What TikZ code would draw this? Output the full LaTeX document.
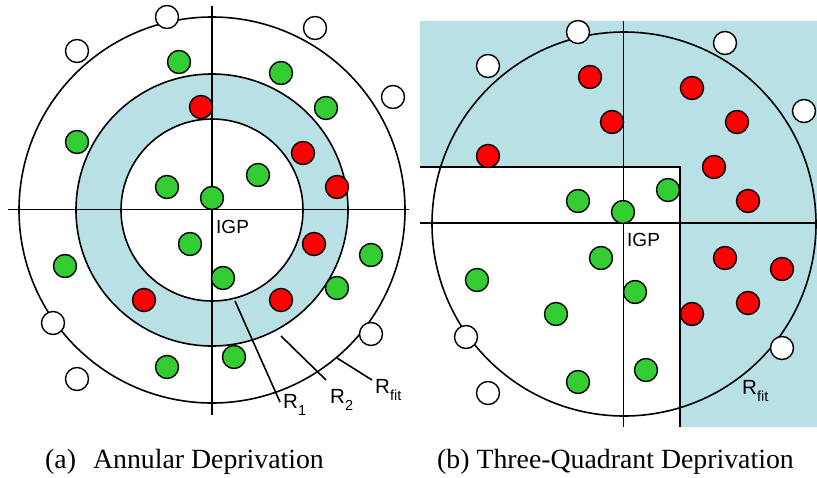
\documentclass[tikz,border=0pt]{standalone}
\usepackage{fontspec}
\setmainfont{Liberation Serif}
\newfontfamily\arial{Liberation Sans}
\definecolor{shadeblue}{RGB}{185,224,228}
\definecolor{dotgreen}{RGB}{51,204,51}
\definecolor{dotred}{RGB}{255,0,0}
\newcommand{\mysub}[1]{\raisebox{-7pt}{\fontsize{14.5}{14.5}\selectfont #1}}
\begin{document}
\begin{tikzpicture}[x=1pt,y=-1pt,
  dot/.style={circle,draw=black,line width=1.4pt,minimum size=23pt,inner sep=0pt},
  gdot/.style={dot,fill=dotgreen},
  rdot/.style={dot,fill=dotred},
  wdot/.style={dot,fill=white},
  axis/.style={line width=1.9pt},
  ring/.style={line width=1.6pt},
  leader/.style={line width=1.6pt},
  lbl/.style={font=\arial\fontsize{19}{21}\selectfont,inner sep=0pt,anchor=base west},
  rlbl/.style={font=\arial\fontsize{20.5}{22}\selectfont,inner sep=0pt,anchor=base west},
  captext/.style={font=\fontsize{27.8}{30}\selectfont,inner sep=0pt,anchor=base west}]
\useasboundingbox (0,0) rectangle (817,477);

% ---------- (a) Annular ----------
\fill[shadeblue,even odd rule] (212,210) circle[radius=136] (212,210) circle[radius=91];
\draw[ring] (212,210) circle[radius=193];
\draw[ring] (212,210) circle[radius=136];
\draw[ring] (212,210) circle[radius=91];
\draw[axis] (212,6) -- (212,415);
\draw[axis] (8,209.5) -- (409,209.5);

\foreach \x/\y [count=\i] in {167/17,315/28,77/51,393/97,53/323,371/334,77/379}
  \node[wdot] (wa\i) at (\x,\y) {};
\foreach \x/\y [count=\i] in {179/62,281/73,326/108,77/142,258/175,167/187,212/198,190/244,371/255,65/266,223/278,337/288,234/357,167/367}
  \node[gdot] (ga\i) at (\x,\y) {};
\foreach \x/\y [count=\i] in {201/107,303/153,337/187,314/244,144/300,281/300}
  \node[rdot] (ra\i) at (\x,\y) {};

\node[lbl] (igpa) at (216,233) {IGP};

\coordinate (r1a) at (235,301);
\coordinate (r1b) at (280,402);
\coordinate (r2a) at (281,336);
\coordinate (r2b) at (326,380);
\coordinate (rfa) at (337,358);
\coordinate (rfb) at (372,380);
\draw[leader] (r1a) -- (r1b);
\draw[leader] (r2a) -- (r2b);
\draw[leader] (rfa) -- (rfb);
\node[rlbl] (lr1) at (283,408) {R\mysub{1}};
\node[rlbl] (lr2) at (330,403) {R\mysub{2}};
\node[rlbl] (lrf) at (375,393) {R\mysub{fit}};

% ---------- (b) Three-Quadrant ----------
\fill[shadeblue] (420,21) -- (817,21) -- (817,427) -- (680,427) -- (680,167) -- (420,167) -- cycle;
\draw[ring] (624,224) circle[radius=192];
\draw[axis] (623.5,21) -- (623.5,427);
\draw[axis] (420,223) -- (817,223);
\draw[axis] (420,167) -- (680,167) -- (680,427);

\foreach \x/\y [count=\i] in {578/32,725/43,488/66,804/111,466/337,782/348,488/393}
  \node[wdot] (wb\i) at (\x,\y) {};
\foreach \x/\y [count=\i] in {590/77,692/88,612/122,737/122,488/156,714/167,748/201,725/258,782/269,748/303,692/314}
  \node[rdot] (rb\i) at (\x,\y) {};
\foreach \x/\y [count=\i] in {578/201,668/190,623/212,601/258,477/280,635/292,556/314,578/382,646/370}
  \node[gdot] (gb\i) at (\x,\y) {};

\node[lbl] (igpb) at (627,246) {IGP};
\node[rlbl] (lrfb) at (742,394) {R\mysub{fit}};

% ---------- captions ----------
\node[captext] (capa) at (45,468) {(a)\hspace{17pt}Annular Deprivation};
\node[captext] (capb) at (437,468) {(b) Three-Quadrant Deprivation};
\end{tikzpicture}
\end{document}
